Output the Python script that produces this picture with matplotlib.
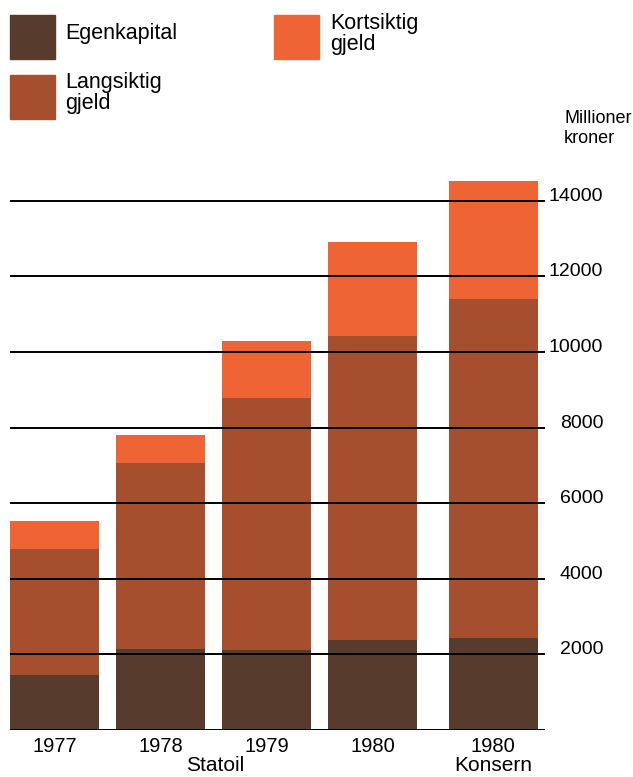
import numpy as np
from matplotlib import pyplot as plt
from matplotlib.patches import Rectangle

plt.rcParams['font.family'] = ['Liberation Sans', 'DejaVu Sans']

years = ["1977", "1978", "1979", "1980", "1980"]
positions = [0, 1, 2, 3, 4.14]
egenkapital = [1460, 2150, 2120, 2390, 2445]
langsiktig = [3330, 4910, 6660, 8040, 8950]   # top 4790, 7060, 8780, 10430, 11395
kortsiktig = [740, 740, 1510, 2490, 3140]      # top 5530, 7800, 10290, 12920, 14535
yticks = [2000, 4000, 6000, 8000, 10000, 12000, 14000]

c_egen = "#573b2d"
c_lang = "#a64f2f"
c_kort = "#ef6434"

fig = plt.figure(figsize=(6.33, 7.77), dpi=100)
W, H = 633, 777

# axes placed in pixels: left 10, right 545, baseline at y=730
x0, x1 = 10, 545
ybase, ytop = 730, 170.6
ax = fig.add_axes([x0 / W, (H - ybase) / H, (x1 - x0) / W, (ybase - ytop) / H])

width = 0.84
ax.bar(positions, egenkapital, width, color=c_egen, zorder=1)
ax.bar(positions, langsiktig, width, bottom=egenkapital, color=c_lang, zorder=1)
bottom2 = np.array(egenkapital) + np.array(langsiktig)
ax.bar(positions, kortsiktig, width, bottom=bottom2, color=c_kort, zorder=1)

for v in [0] + yticks:
    ax.axhline(v, color="black", lw=1.4, zorder=3)

ax.set_xlim(-0.42, -0.42 + (x1 - x0) / 106)
ax.set_ylim(0, 14800)

for s in ax.spines.values():
    s.set_visible(False)

ax.yaxis.tick_right()
ax.set_yticks(yticks)
ax.set_yticklabels([str(t) for t in yticks])
ax.tick_params(axis="y", length=0, pad=42, labelsize=14)
for lab in ax.get_yticklabels():
    lab.set_ha("right")
    lab.set_va("baseline")

ax.set_xticks(positions)
ax.set_xticklabels(years)
ax.tick_params(axis="x", length=0, pad=5, labelsize=14.5)

ax.text(1.52, -0.063, "Statoil", transform=ax.get_xaxis_transform(),
        ha="center", va="center", fontsize=15)
ax.text(positions[4], -0.063, "Konsern", transform=ax.get_xaxis_transform(),
        ha="center", va="center", fontsize=15)

fig.text(564 / W, 1 - 110 / H, "Millioner\nkroner", ha="left", va="top",
         fontsize=13, linespacing=1.25)

# legend
def swatch(x, y, color):
    fig.patches.append(Rectangle((x / W, 1 - (y + 44) / H), 45 / W, 44 / H,
                                 transform=fig.transFigure, color=color))

swatch(10, 15, c_egen)
swatch(10, 75, c_lang)
swatch(274, 15, c_kort)
fig.text(65 / W, 1 - 34 / H, "Egenkapital", ha="left", va="center", fontsize=15.5)
fig.text(65 / W, 1 - 93 / H, "Langsiktig\ngjeld", ha="left", va="center",
         fontsize=15.5, linespacing=1.0)
fig.text(330 / W, 1 - 34 / H, "Kortsiktig\ngjeld", ha="left", va="center",
         fontsize=15.5, linespacing=1.0)

fig.savefig("out.png", dpi=100)
